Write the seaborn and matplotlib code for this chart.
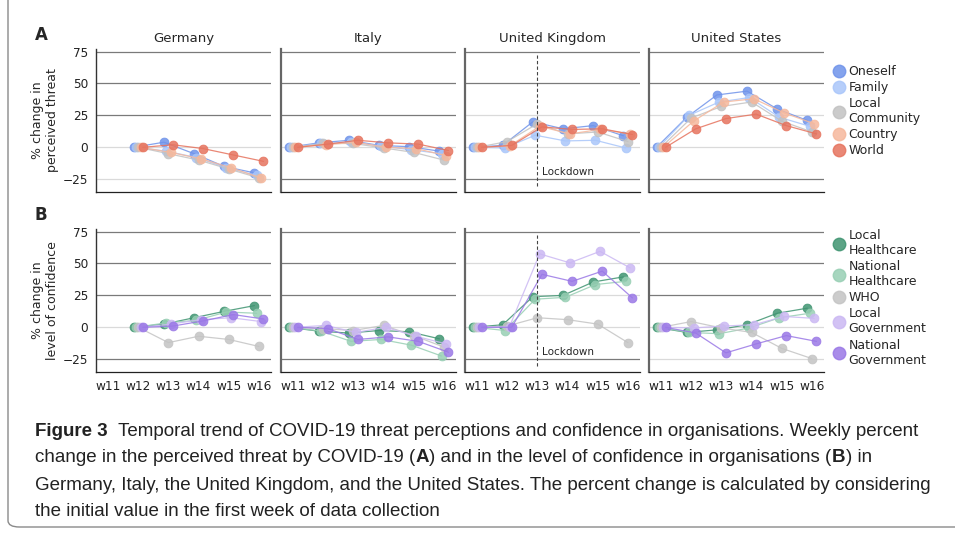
import numpy as np
import pandas as pd
import matplotlib
matplotlib.use("Agg")
import matplotlib.pyplot as plt
from matplotlib.lines import Line2D
from matplotlib.patches import FancyBboxPatch
from matplotlib import font_manager
import seaborn as sns

weeks = ["w11", "w12", "w13", "w14", "w15", "w16"]
countries = ["Germany", "Italy", "United Kingdom", "United States"]

threat_groups = ["Oneself", "Family", "Local Community", "Country", "World"]
threat_labels = ["Oneself", "Family", "Local\nCommunity", "Country", "World"]
threat_colors = ["#6f93ea", "#a9c6fa", "#c2c2c2", "#f6b89c", "#e6735e"]

conf_groups = ["Local Healthcare", "National Healthcare", "WHO",
               "Local Government", "National Government"]
conf_labels = ["Local\nHealthcare", "National\nHealthcare", "WHO",
               "Local\nGovernment", "National\nGovernment"]
conf_colors = ["#3f9471", "#98cfb4", "#c4c4c4", "#cbb8f3", "#9a78e6"]

nan = np.nan

# % change in perceived threat (A)
threat_de = {
    "Oneself":         [nan, 0, 4, -5, -15, -20],
    "Family":          [nan, 0, -3, -8, -16, -22],
    "Local Community": [nan, 0, -5, -10, -17, -24],
    "Country":         [nan, 0, -4, -9, -16, -24],
    "World":           [nan, 0, 2, -1, -6, -11],
}
threat_it = {
    "Oneself":         [0, 3.5, 5.5, 1.5, 0.5, -3],
    "Family":          [0, 3, 4, 1, -2, -5],
    "Local Community": [0, 3, 3, -0.5, -4, -10],
    "Country":         [0, 2, 4, 0, -1, -6.5],
    "World":           [0, 2.5, 5.5, 3.5, 2.5, -2.5],
}
threat_uk = {
    "Oneself":         [0, 1.5, 20, 14.5, 17, 9],
    "Family":          [0, -0.5, 9.5, 5, 5.5, -0.5],
    "Local Community": [0, 4.5, 18.5, 10.5, 12, 4.5],
    "Country":         [0, 1, 16.5, 10.5, 14, 10.5],
    "World":           [0, 1.5, 16, 14, 14.5, 10],
}
threat_us = {
    "Oneself":         [0, 23.5, 41, 44, 30, 21],
    "Family":          [0, 25, 35.5, 39, 23.5, 16.5],
    "Local Community": [0, 23, 32, 35.5, 20.5, 12],
    "Country":         [0, 20.5, 35.5, 38, 27, 18.5],
    "World":           [0, 14.5, 22.5, 26, 17, 10.5],
}

# % change in level of confidence (B)
conf_de = {
    "Local Healthcare":    [nan, 0, 2.5, 7.5, 12.5, 17],
    "National Healthcare": [nan, 0, 3.5, 5.5, 12, 11],
    "WHO":                 [nan, 0, -12, -7, -9.5, -15],
    "Local Government":    [nan, 0, 2.5, 6, 7.5, 4.5],
    "National Government": [nan, 0, 1, 5, 10, 6.5],
}
conf_it = {
    "Local Healthcare":    [0, -3, -4.5, -2.5, -3.5, -9],
    "National Healthcare": [0, -3, -11, -9.5, -14, -22.5],
    "WHO":                 [0, -1, -2.5, 1.5, -6.5, -15.5],
    "Local Government":    [0, 1.5, -4, 0, -7, -13],
    "National Government": [0, -1, -9.5, -7.5, -11, -19.5],
}
conf_uk = {
    "Local Healthcare":    [0, 2, 24, 25, 35.5, 39.5],
    "National Healthcare": [0, -2.5, 22, 23.5, 33.5, 36],
    "WHO":                 [0, 1, 7.5, 6, 2.5, -12],
    "Local Government":    [0, 0.5, 57.5, 50.5, 59.5, 46.5],
    "National Government": [0, 0, 41.5, 36, 44, 23],
}
conf_us = {
    "Local Healthcare":    [0, -4, -2, 2, 11, 15],
    "National Healthcare": [0, -4, -5, -0.5, 7.5, 11],
    "WHO":                 [0, 4.5, -0.5, -4, -16.5, -24.5],
    "Local Government":    [0, -0.5, 1, 2, 8.5, 7],
    "National Government": [0, -4.5, -20, -13, -6.5, -11],
}

threat_data = [threat_de, threat_it, threat_uk, threat_us]
conf_data = [conf_de, conf_it, conf_uk, conf_us]

sns.set_style("white")
plt.rcParams["font.family"] = ["DejaVu Sans"]

names = {f.name for f in font_manager.fontManager.ttflist}
cap_font = "Liberation Sans Narrow" if "Liberation Sans Narrow" in names else "Liberation Sans"

W, H = 955, 533
fig = plt.figure(figsize=(W / 100, H / 100), dpi=100)


def box(left, top, width, height):
    return [left / W, 1 - (top + height) / H, width / W, height / H]


lefts = [96, 281, 465, 649]
# grid lines drawn in a lighter tone
light_top = [{0, -25}, {0}, {25, 0}, {25, 0}]
light_bot = [{0}, {0}, {50, 25, 0}, {0, -25}]


def long_df(d):
    rows = []
    for g, vals in d.items():
        for w, v in zip(weeks, vals):
            if not np.isnan(v):
                rows.append({"week": w, "group": g, "value": v})
    return pd.DataFrame(rows)


def draw_panel(ax, d, groups, colors, light, show_y, show_x):
    for lev in [-25, 0, 25, 50, 75]:
        ax.axhline(lev, color="#dadada" if lev in light else "#7a7a7a",
                   lw=0.9, zorder=0)
    sns.pointplot(data=long_df(d), x="week", y="value", hue="group",
                  order=weeks, hue_order=groups, palette=colors,
                  dodge=0.3, errorbar=None, markersize=6.3, linewidth=0.9,
                  alpha=0.85, legend=False, ax=ax)
    ax.set_xlim(-0.4, 5.4)
    ax.set_ylim(-35, 77)
    ax.set_yticks([-25, 0, 25, 50, 75])
    ax.set_xlabel("")
    ax.set_ylabel("")
    for s in ["top", "right"]:
        ax.spines[s].set_visible(False)
    ax.spines["left"].set_color("#333333" if show_y else "#666666")
    ax.spines["left"].set_linewidth(1.0 if show_y else 1.6)
    ax.spines["bottom"].set_color("#222222")
    ax.spines["bottom"].set_linewidth(0.9)
    ax.tick_params(axis="both", direction="out", length=3.5, width=0.8,
                   labelsize=8.7, pad=2, colors="#222222")
    if not show_y:
        ax.tick_params(axis="y", labelleft=False)
    if not show_x:
        ax.tick_params(axis="x", labelbottom=False)


def lockdown(ax):
    ax.plot([2, 2], [-30.5, 72], ls=(0, (3, 2)), color="#444444", lw=0.8)
    ax.text(2.15, -19.5, "Lockdown", fontsize=7.5, va="center")


for i, c in enumerate(countries):
    ax = fig.add_axes(box(lefts[i], 49, 175, 143))
    draw_panel(ax, threat_data[i], threat_groups, threat_colors,
               light_top[i], i == 0, False)
    ax.set_title(c, fontsize=9.5, pad=5)
    if i == 0:
        ax.set_ylabel("% change in\nperceived threat", fontsize=9, labelpad=3)
    if c == "United Kingdom":
        lockdown(ax)

    ax2 = fig.add_axes(box(lefts[i], 229, 175, 143))
    draw_panel(ax2, conf_data[i], conf_groups, conf_colors,
               light_bot[i], i == 0, True)
    if i == 0:
        ax2.set_ylabel("% change in\nlevel of confidence", fontsize=9, labelpad=3)
    if c == "United Kingdom":
        lockdown(ax2)

fig.text(35 / W, 1 - 35 / H, "A", fontsize=12, fontweight="bold", va="center")
fig.text(35 / W, 1 - 215 / H, "B", fontsize=12, fontweight="bold", va="center")


def handles(colors):
    return [Line2D([], [], ls="", marker="o", markersize=9, color=col,
                   alpha=0.85) for col in colors]


fig.legend(handles(threat_colors), threat_labels, loc="upper left",
           bbox_to_anchor=(826 / W, 1 - 60 / H), frameon=False,
           fontsize=9, handletextpad=0.2, labelspacing=0.25,
           handlelength=1.2, borderaxespad=0)
fig.legend(handles(conf_colors), conf_labels, loc="upper left",
           bbox_to_anchor=(826 / W, 1 - 224 / H), frameon=False,
           fontsize=9, handletextpad=0.2, labelspacing=0.25,
           handlelength=1.2, borderaxespad=0)

# frame around figure + caption
frame = FancyBboxPatch((8 / W, 6 / H), 1.5, 1.5, transform=fig.transFigure,
                       boxstyle="round,pad=0,rounding_size=0.012",
                       fc="none", ec="#8a8a8a", lw=1.0)
fig.patches.append(frame)

cap_lines = [
    [("Figure 3", True), ("  Temporal trend of COVID-19 threat perceptions and confidence in organisations. Weekly percent", False)],
    [("change in the perceived threat by COVID-19 (", False), ("A", True),
     (") and in the level of confidence in organisations (", False), ("B", True), (") in", False)],
    [("Germany, Italy, the United Kingdom, and the United States. The percent change is calculated by considering", False)],
    [("the initial value in the first week of data collection", False)],
]
cap_y = [432, 458, 485, 511]
renderer = fig.canvas.get_renderer()
for segs, y in zip(cap_lines, cap_y):
    x = 35
    for txt, bold in segs:
        t = fig.text(x / W, 1 - y / H, txt, fontsize=13.5, family=cap_font,
                     fontweight="bold" if bold else "normal", va="center",
                     color="#222222")
        x = t.get_window_extent(renderer).x1 + (0.5 if bold else 0)

fig.savefig("out.png", dpi=100)
